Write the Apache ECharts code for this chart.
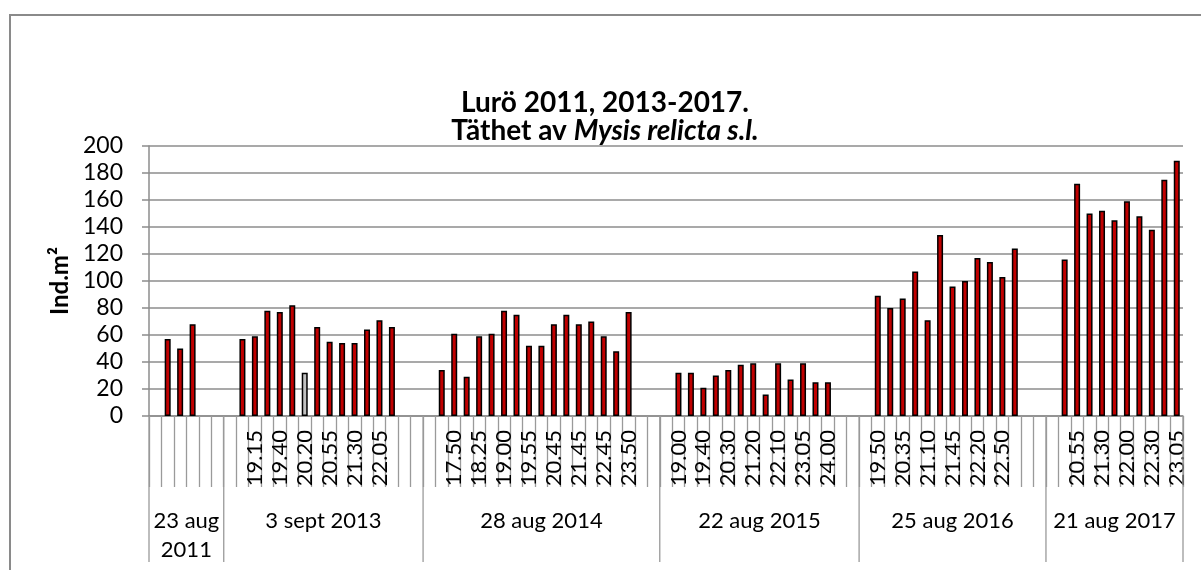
<!DOCTYPE html>
<html>
<head>
<meta charset="utf-8">
<script src="https://cdn.jsdelivr.net/npm/echarts@6/dist/echarts.min.js"></script>
<style>html,body{margin:0;padding:0;background:#fff}#c{width:1201px;height:570px}</style>
</head>
<body>
<div id="c"></div>
<script>
// ---- data ----
const groupNames = ['23 aug\n2011', '3 sept 2013', '28 aug 2014', '22 aug 2015', '25 aug 2016', '21 aug 2017'];

const times2011 = ['', '', '', '', '', ''];
const vals2011  = [null, 57, 50, 68, null, null];

const times2013 = ['', '', '19.15', '', '19.40', '', '20.20', '', '20.55', '', '21.30', '', '22.05', '', '', ''];
const vals2013  = [null, 57, 59, 78, 77, 82, 32, 66, 55, 54, 54, 64, 71, 66, null, null];

const times2014 = ['', '', '17.50', '', '18.25', '', '19.00', '', '19.55', '', '20.45', '', '21.45', '', '22.45', '', '23.50', '', ''];
const vals2014  = [null, 34, 61, 29, 59, 61, 78, 75, 52, 52, 68, 75, 68, 70, 59, 48, 77, null, null];

const times2015 = ['', '19.00', '', '19.40', '', '20.30', '', '21.20', '', '22.10', '', '23.05', '', '24.00', '', ''];
const vals2015  = [null, 32, 32, 21, 30, 34, 38, 39, 16, 39, 27, 39, 25, 25, null, null];

const times2016 = ['', '19.50', '', '20.35', '', '21.10', '', '21.45', '', '22.20', '', '22.50', '', '', ''];
const vals2016  = [null, 89, 80, 87, 107, 71, 134, 96, 100, 117, 114, 103, 124, null, null];

const times2017 = ['', '', '20.55', '', '21.30', '', '22.00', '', '22.30', '', '23.05'];
const vals2017  = [null, 116, 172, 150, 152, 145, 159, 148, 138, 175, 189];

const yTicks = [0, 20, 40, 60, 80, 100, 120, 140, 160, 180, 200];
const grayBarKey = ['3 sept 2013', '20.20'];

// ---- build ----
const groupTimes = [times2011, times2013, times2014, times2015, times2016, times2017];
const groupVals  = [vals2011, vals2013, vals2014, vals2015, vals2016, vals2017];
const categories = [], values = [], groupRanges = [];
groupNames.forEach((g, gi) => {
  const start = categories.length;
  groupTimes[gi].forEach((t, k) => {
    categories.push(gi + '|' + k + '|' + t);
    values.push(groupVals[gi][k]);
  });
  groupRanges.push([start, 0, categories.length - 1]);
});
const grayGroup = groupNames.indexOf(grayBarKey[0]);
const barData = values.map((v, i) => {
  const p = categories[i].split('|');
  if (+p[0] === grayGroup && p[2] === grayBarKey[1]) return {value: v, itemStyle: {color: '#c0c0c0'}};
  return v;
});

const FONT = 'Lato';
const chart = echarts.init(document.getElementById('c'), null, {renderer: 'canvas'});
chart.setOption({
  animation: false,
  backgroundColor: '#fff',
  textStyle: {fontFamily: FONT},
  title: {
    left: 605, top: 89, textAlign: 'center', padding: 0,
    text: '{b|Lurö 2011, 2013-2017.}\n{b|Täthet av }{i|Mysis relicta s.l.}',
    textStyle: {
      rich: {
        b: {fontFamily: FONT, fontWeight: 'bold', fontSize: 28, lineHeight: 28, color: '#000'},
        i: {fontFamily: FONT, fontWeight: 'bold', fontStyle: 'italic', fontSize: 28, lineHeight: 28, color: '#000'}
      }
    }
  },
  graphic: [{
    type: 'rect', silent: true, z: -10,
    shape: {x: 10, y: 15, width: 1205, height: 600},
    style: {fill: 'none', stroke: '#8a8a8a', lineWidth: 2}
  }],
  grid: {left: 149, right: 18, top: 146, bottom: 154},
  xAxis: {
    type: 'category', data: categories, boundaryGap: true,
    axisLine: {show: true, lineStyle: {color: '#8c8c8c', width: 1.5}},
    axisTick: {show: true, interval: 0, length: 71, lineStyle: {color: '#9a9a9a', width: 1.3}},
    axisLabel: {
      interval: 0, rotate: 90, margin: 14, fontSize: 22, color: '#000', fontFamily: FONT,
      formatter: v => v.split('|')[2]
    },
    splitLine: {show: false}
  },
  yAxis: {
    type: 'value', min: yTicks[0], max: yTicks[yTicks.length - 1], interval: yTicks[1] - yTicks[0],
    name: 'Ind.m²', nameLocation: 'middle', nameRotate: 90, nameGap: 75,
    nameTextStyle: {fontFamily: FONT, fontWeight: 'bold', fontSize: 24, color: '#000'},
    axisLine: {show: true, lineStyle: {color: '#8c8c8c', width: 1.5}},
    axisTick: {show: true, inside: false, length: 7, lineStyle: {color: '#8c8c8c', width: 1.5}},
    axisLabel: {fontSize: 23, color: '#000', margin: 26, fontFamily: FONT},
    splitLine: {show: true, lineStyle: {color: '#8c8c8c', width: 1.6}}
  },
  series: [{
    type: 'bar', data: barData, barWidth: 6,
    itemStyle: {color: '#c00000', borderColor: '#000', borderWidth: 1.5},
    z: 3
  }, {
    type: 'custom', data: groupRanges, encode: {x: [0, 2], y: 1}, clip: false, silent: true, z: 2,
    renderItem: (params, api) => {
      const s = api.value(0), e = api.value(2);
      const bw = api.size([1, 0])[0];
      const p0 = api.coord([s, 0]), p1 = api.coord([e, 0]);
      const x0 = p0[0] - bw / 2, x1 = p1[0] + bw / 2, y0 = p0[1];
      const children = [
        {type: 'line', shape: {x1: x0, y1: y0, x2: x0, y2: y0 + 146}, style: {stroke: '#9a9a9a', lineWidth: 1.3}},
        {type: 'text', style: {x: (x0 + x1) / 2, y: y0 + 90, text: groupNames[params.dataIndex],
          align: 'center', verticalAlign: 'top', fontSize: 22, lineHeight: 29, fontFamily: FONT, fill: '#000'}}
      ];
      if (params.dataIndex === groupRanges.length - 1) {
        children.push({type: 'line', shape: {x1: x1, y1: y0, x2: x1, y2: y0 + 146}, style: {stroke: '#9a9a9a', lineWidth: 1.3}});
      }
      return {type: 'group', children};
    }
  }]
});
</script>
</body>
</html>
